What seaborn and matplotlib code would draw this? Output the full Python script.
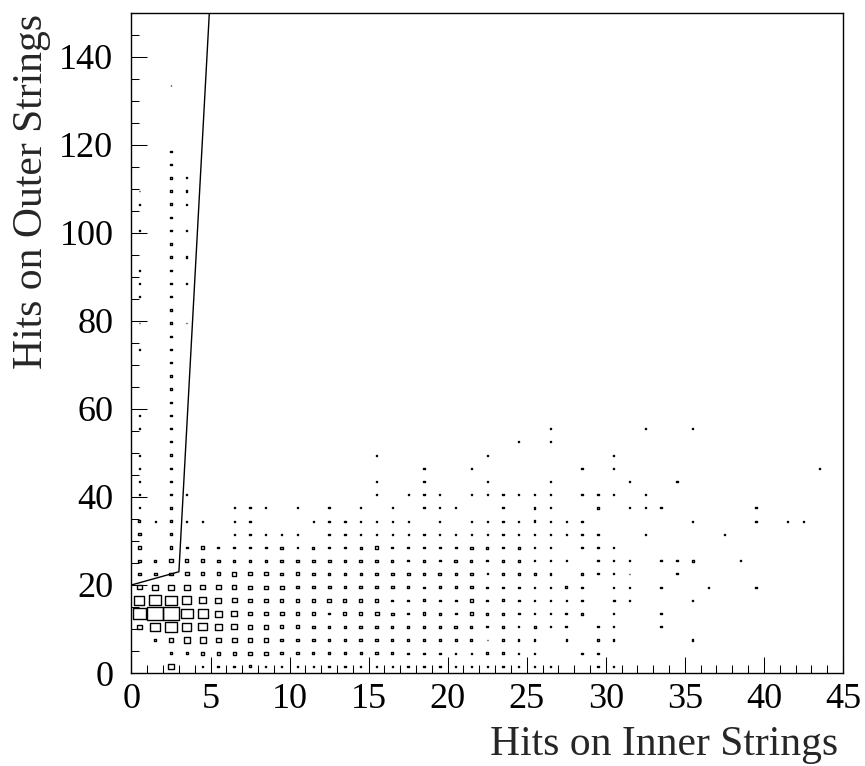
import numpy as np
import pandas as pd
import matplotlib
matplotlib.use("Agg")
import matplotlib.pyplot as plt
from matplotlib.path import Path
import seaborn as sns

# dense core of the histogram: rows are y bins (width 3), columns x bins 0.5 .. 31.5
core_y = [1.5, 4.5, 7.5, 10.5, 13.5, 16.5, 19.5, 22.5, 25.5, 28.5]
core_x = np.arange(0.5, 32, 1.0)
core_rows = [
    [0, 0, 36, 0, 10, 12, 12, 15, 8, 10, 10, 8, 8, 12, 8, 8, 8, 10, 8, 10, 6, 10, 6, 8, 8, 8, 12, 0, 0, 8, 8, 0],
    [0, 0, 17, 12, 21, 21, 21, 21, 21, 17, 19, 15, 15, 12, 12, 15, 12, 10, 10, 10, 10, 10, 12, 12, 8, 10, 0, 0, 8, 8, 0, 0],
    [0, 12, 27, 38, 38, 32, 30, 25, 23, 21, 21, 19, 17, 17, 17, 15, 12, 10, 10, 15, 12, 12, 6, 15, 8, 8, 0, 8, 0, 8, 8, 0],
    [32, 63, 74, 59, 53, 42, 36, 30, 27, 23, 25, 17, 17, 15, 17, 15, 12, 15, 17, 12, 17, 12, 10, 12, 8, 12, 10, 10, 0, 8, 8, 0],
    [80, 100, 95, 74, 63, 46, 36, 28, 23, 25, 25, 19, 12, 19, 21, 25, 15, 12, 17, 15, 12, 17, 15, 15, 12, 8, 10, 12, 15, 0, 10, 0],
    [63, 76, 70, 59, 46, 38, 32, 25, 23, 23, 21, 21, 25, 19, 19, 21, 12, 12, 17, 12, 12, 19, 10, 15, 10, 8, 10, 8, 8, 0, 12, 6],
    [27, 36, 36, 36, 32, 27, 27, 21, 23, 25, 17, 17, 19, 17, 17, 17, 17, 12, 10, 12, 12, 15, 10, 10, 10, 8, 10, 12, 8, 0, 8, 6],
    [20, 21, 21, 23, 23, 23, 27, 23, 23, 19, 23, 19, 15, 15, 10, 19, 19, 17, 17, 17, 12, 15, 8, 15, 12, 12, 10, 0, 10, 8, 8, 6],
    [15, 12, 20, 20, 20, 17, 12, 17, 12, 17, 17, 19, 19, 17, 19, 17, 12, 10, 15, 10, 17, 12, 10, 12, 12, 8, 8, 8, 0, 8, 8, 8],
    [17, 0, 17, 10, 17, 12, 12, 12, 10, 15, 12, 15, 12, 12, 15, 21, 12, 10, 10, 10, 12, 15, 15, 10, 15, 10, 10, 0, 10, 8, 8, 0],
]

# sparse part: y bin centre -> {x bin centre: content}
tail_y = [7.5, 10.5, 13.5, 16.5, 19.5, 22.5, 25.5, 31.5, 34.5, 37.5, 40.5, 43.5, 46.5,
          49.5, 52.5, 55.5, 58.5, 61.5, 64.5, 67.5, 70.5, 73.5, 76.5, 79.5, 82.5,
          85.5, 88.5, 91.5, 94.5, 97.5, 100.5, 103.5, 106.5, 109.5, 112.5, 115.5,
          118.5, 133.5, 139.5]
tail_cells = [
    {35.5: 8},
    {33.5: 8},
    {33.5: 8},
    {35.5: 8},
    {33.5: 8, 36.5: 8, 39.5: 8},
    {34.5: 8},
    {33.5: 8, 34.5: 8, 35.5: 12, 38.5: 8},
    {0.5: 15, 2.5: 15, 6.5: 8, 7.5: 8, 8.5: 8, 9.5: 8, 10.5: 8, 12.5: 8, 13.5: 8, 14.5: 8,
     15.5: 8, 16.5: 8, 17.5: 8, 18.5: 8, 19.5: 8, 20.5: 8, 21.5: 8, 22.5: 8, 23.5: 8,
     24.5: 8, 25.5: 8, 26.5: 8, 27.5: 8, 28.5: 8, 29.5: 8, 32.5: 8, 37.5: 8},
    {0.5: 12, 1.5: 8, 2.5: 12, 3.5: 8, 4.5: 8, 6.5: 8, 7.5: 8, 11.5: 8, 12.5: 8, 13.5: 8,
     14.5: 8, 15.5: 8, 16.5: 8, 17.5: 8, 19.5: 8, 21.5: 8, 22.5: 8, 23.5: 8, 24.5: 8,
     25.5: 10, 26.5: 8, 27.5: 8, 28.5: 8, 35.5: 8, 39.5: 8, 41.5: 8, 42.5: 8},
    {0.5: 8, 2.5: 10, 6.5: 8, 7.5: 8, 8.5: 8, 10.5: 8, 12.5: 8, 14.5: 8, 16.5: 8, 18.5: 8,
     19.5: 8, 20.5: 8, 23.5: 8, 25.5: 10, 26.5: 8, 29.5: 10, 31.5: 8, 32.5: 8, 33.5: 8, 39.5: 8},
    {0.5: 10, 2.5: 10, 3.5: 6, 15.5: 8, 17.5: 8, 18.5: 8, 19.5: 8, 21.5: 8, 22.5: 8,
     23.5: 8, 24.5: 8, 25.5: 8, 26.5: 8, 28.5: 8, 29.5: 8, 30.5: 8, 32.5: 8},
    {0.5: 10, 2.5: 8, 15.5: 8, 18.5: 8, 22.5: 8, 26.5: 8, 31.5: 8, 34.5: 8},
    {0.5: 10, 2.5: 8, 18.5: 8, 21.5: 8, 28.5: 8, 30.5: 8, 43.5: 8},
    {0.5: 8, 2.5: 10, 15.5: 8, 22.5: 8, 30.5: 8},
    {2.5: 8, 24.5: 8, 26.5: 8},
    {0.5: 6, 2.5: 10, 26.5: 8, 32.5: 8, 35.5: 8},
    {0.5: 8, 2.5: 8},
    {2.5: 8},
    {2.5: 10},
    {2.5: 12},
    {2.5: 12},
    {0.5: 6, 2.5: 12},
    {2.5: 10},
    {0.5: 6, 2.5: 10, 3.5: 6},
    {2.5: 10},
    {0.5: 6, 2.5: 12},
    {0.5: 6, 2.5: 12, 3.5: 6},
    {0.5: 6, 2.5: 10},
    {2.5: 10, 3.5: 8},
    {2.5: 12},
    {0.5: 6, 2.5: 12, 3.5: 8},
    {2.5: 12},
    {0.5: 6, 2.5: 12, 3.5: 8},
    {0.5: 6, 2.5: 12, 3.5: 8},
    {2.5: 12, 3.5: 6},
    {2.5: 12},
    {2.5: 10},
    {2.5: 6},
    {2.5: 6},
]

# selection cut drawn on top
cut_x = [0, 3, 5]
cut_y = [20, 23, 155]

recs = []
for yc, row in zip(core_y, core_rows):
    for xc, v in zip(core_x, row):
        if v > 0:
            recs.append((xc, yc, v))
for yc, cells in zip(tail_y, tail_cells):
    for xc, v in cells.items():
        recs.append((xc, yc, v))
df = pd.DataFrame(recs, columns=["inner", "outer", "content"])
df["area"] = df["content"] ** 2

sns.set_style("ticks")
plt.rcParams["font.family"] = ["Liberation Serif", "DejaVu Serif"]

fig = plt.figure(figsize=(8.65, 7.66), dpi=100)
ax = fig.add_axes([0.152, 0.1214, 0.8225, 0.862])

# box marker with the same aspect as one bin on screen
h = 0.835 / 2
box = Path([(-0.5, -h), (0.5, -h), (0.5, h), (-0.5, h), (-0.5, -h)],
           [Path.MOVETO, Path.LINETO, Path.LINETO, Path.LINETO, Path.CLOSEPOLY])

bin_pts = 15.81 * 72 / 100
sns.scatterplot(data=df, x="inner", y="outer", size="area",
                sizes=(0, bin_pts ** 2), size_norm=(0, 100 ** 2),
                marker=box, color="black", linewidth=1.0, legend=False, ax=ax)
coll = ax.collections[0]
coll.set_facecolor("none")
coll.set_edgecolor("black")

sns.lineplot(x=cut_x, y=cut_y, sort=False, estimator=None, color="black",
             linewidth=1.0, ax=ax)

ax.set_xlim(0, 45)
ax.set_ylim(0, 150)
ax.set_xticks(np.arange(0, 46, 5))
ax.set_xticks(np.arange(0, 46, 1), minor=True)
ax.set_yticks(np.arange(0, 141, 20))
ax.set_yticks(np.arange(0, 151, 5), minor=True)
ax.tick_params(which="both", direction="in", top=False, right=False,
               width=0.75, colors="black", labelsize=26)
ax.tick_params(which="major", length=11.5)
ax.tick_params(which="minor", length=5.8)
ax.tick_params(axis="y", pad=13)
ax.tick_params(axis="x", pad=7)
for s in ax.spines.values():
    s.set_color("black")
    s.set_linewidth(1.0)

ax.set_xlabel("Hits on Inner Strings", fontsize=30, ha="right", va="center")
ax.xaxis.set_label_coords(0.993, -0.109)
ax.set_ylabel("Hits on Outer Strings", fontsize=30, ha="right", va="center")
ax.yaxis.set_label_coords(-0.14, 0.998)

fig.savefig("out.png", dpi=100, facecolor="white")
